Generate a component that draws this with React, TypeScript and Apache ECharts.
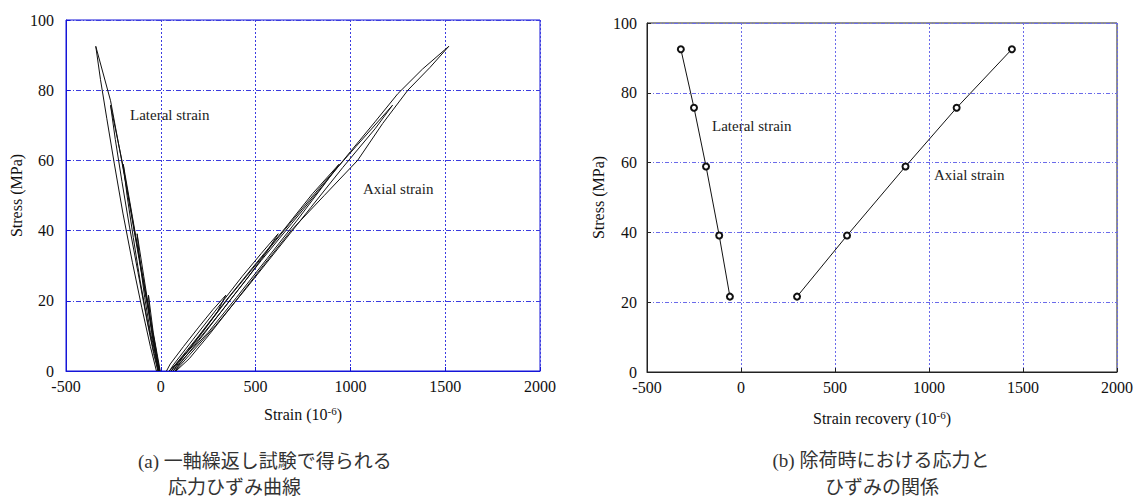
import React, { useEffect, useRef } from "react";
import * as echarts from "echarts";

// ---- (a) cyclic loading curves: [strain (1e-6), stress (MPa)] ----
const axialLoop1 = [[30,0],[50,2],[120,7],[200,12.5],[275,17.5],[343,21.6],[300,17],[220,11],[140,5.5],[80,2],[45,0]];
const axialLoop2 = [[45,0],[70,2],[170,9],[300,18],[430,27],[530,33.5],[619,39.1],[560,34],[450,26],[320,17],[200,9],[100,3],[55,0]];
const axialLoop3 = [[55,0],[80,2],[200,10],[350,20.5],[500,30.5],[660,41],[800,50.5],[940,58.9],[860,53],[720,43],[560,32],[400,21],[250,11],[120,3.5],[65,0]];
const axialLoop4 = [[65,0],[90,2],[210,10.5],[360,21],[520,31.5],[680,42],[850,53],[1030,64],[1222,75.7],[1130,69],[960,58],[790,46.5],[620,35],[450,23.5],[290,13],[150,4.5],[75,0]];
const axialLoop5 = [[75,0],[100,2],[220,10],[370,20.5],[530,31.5],[690,42],[850,52.5],[1000,62.5],[1130,71],[1250,79],[1380,86],[1519,92.5],[1420,86.5],[1303,80],[1170,70.5],[1038,60],[862,50],[687,40],[540,30],[396,20],[250,10],[150,3.5],[80,0]];

const lateralLoop1 = [[-3,0],[-20,5],[-40,11],[-65,21.6],[-58,16],[-45,10],[-28,5],[-6,0]];
const lateralLoop2 = [[-6,0],[-25,6],[-55,15],[-90,27],[-125,39.1],[-110,31],[-85,21],[-55,11],[-25,4],[-9,0]];
const lateralLoop3 = [[-9,0],[-30,7],[-65,18],[-105,30],[-150,44],[-198,58.9],[-178,50],[-145,38],[-110,26],[-70,14],[-35,5],[-12,0]];
const lateralLoop4 = [[-12,0],[-35,8],[-70,19],[-110,31],[-155,45],[-205,60],[-265,75.7],[-240,66],[-205,54],[-165,41],[-120,28],[-75,15],[-38,5],[-15,0]];
const lateralLoop5 = [[-15,0],[-38,8],[-75,20],[-115,32],[-160,46],[-210,61],[-265,77],[-343,92.5],[-318,83],[-285,72],[-245,59],[-200,45],[-150,31],[-100,18],[-55,7],[-23,0]];

// ---- (b) strain recovery at unloading ----
const unloadStress = [92.5, 75.7, 58.9, 39.1, 21.6];
const lateralRecovery = [-320, -250, -186, -116, -59];
const axialRecovery = [1441, 1147, 875, 564, 298];

// ---- axes ----
const xMin = -500, xMax = 2000, xStep = 500;
const yMin = 0, yMax = 100, yStep = 20;

const SERIF = "Liberation Serif, serif";
const CJK = "Liberation Serif, Noto Sans CJK JP, sans-serif";

export default function App() {
  const ref = useRef<HTMLDivElement>(null);

  useEffect(() => {
    const chart = echarts.init(ref.current!, null, { renderer: "svg" });

    const labelStyle = { color: "#111", fontFamily: SERIF, fontSize: 16, lineHeight: 12, formatter: (v: number) => String(v) };
    const nameStyle = {
      color: "#111",
      fontFamily: SERIF,
      fontSize: 16,
      rich: { sup: { fontSize: 11, fontFamily: SERIF, color: "#111", verticalAlign: "top", padding: [0, 0, 7, 0] } },
    };

    const leftAxisColor = "#1515d8";
    const rightAxisColor = "#222";

    const mkX = (gi: number, axisColor: string, gridColor: string, gridType: any, name: string, gap: number) => ({
      type: "value",
      gridIndex: gi,
      min: xMin,
      max: xMax,
      interval: xStep,
      name,
      nameLocation: "middle",
      nameGap: gap,
      nameTextStyle: nameStyle,
      axisLine: { show: true, onZero: false, lineStyle: { color: axisColor, width: 1 } },
      axisTick: { show: true, inside: true, length: 4, lineStyle: { color: axisColor } },
      axisLabel: { ...labelStyle, margin: 9 },
      splitLine: { show: true, lineStyle: { color: gridColor, type: gridType, width: 1 } },
    });
    const mkY = (gi: number, axisColor: string, gridColor: string, gridType: any, gap: number, margin: number) => ({
      type: "value",
      gridIndex: gi,
      min: yMin,
      max: yMax,
      interval: yStep,
      name: "Stress (MPa)",
      nameLocation: "middle",
      nameRotate: 90,
      nameGap: gap,
      nameTextStyle: nameStyle,
      axisLine: { show: true, onZero: false, lineStyle: { color: axisColor, width: 1 } },
      axisTick: { show: true, inside: true, length: 4, lineStyle: { color: axisColor } },
      axisLabel: { ...labelStyle, margin },
      splitLine: { show: true, lineStyle: { color: gridColor, type: gridType, width: 1 } },
    });

    const loopSeries = (data: number[][]) => ({
      type: "line",
      xAxisIndex: 0,
      yAxisIndex: 0,
      data,
      showSymbol: false,
      symbol: "none",
      lineStyle: { color: "#111", width: 1 },
      silent: true,
    });

    const lateralPts = lateralRecovery.map((x, i) => [x, unloadStress[i]]);
    const axialPts = axialRecovery.map((x, i) => [x, unloadStress[i]]);

    const recSeries = (data: number[][]) => ({
      type: "line",
      xAxisIndex: 1,
      yAxisIndex: 1,
      data,
      symbol: "emptyCircle",
      symbolSize: 6,
      showSymbol: true,
      itemStyle: { color: "#111", borderColor: "#111", borderWidth: 1 },
      lineStyle: { color: "#111", width: 1 },
      silent: true,
    });

    const txt = (text: string, x: number, y: number, size = 15, font = SERIF, align = "left", fill = "#222") => ({
      type: "text",
      x,
      y,
      style: { text, fill, fontFamily: font, fontSize: size, textAlign: align, textVerticalAlign: "middle" },
    });

    chart.setOption({
      animation: false,
      backgroundColor: "#fff",
      grid: [
        { left: 66, top: 20, width: 474, height: 351, show: true, borderColor: leftAxisColor, borderWidth: 1, backgroundColor: "transparent" },
        { left: 647, top: 23, width: 470, height: 349, show: true, borderColor: rightAxisColor, borderWidth: 1, backgroundColor: "transparent" },
      ],
      xAxis: [
        mkX(0, leftAxisColor, "#3b3be0", [2, 2], "Strain (10{sup|-6})", 34),
        mkX(1, rightAxisColor, "#6b6bea", [2, 2], "Strain recovery (10{sup|-6})", 37),
      ],
      yAxis: [
        mkY(0, leftAxisColor, "#3b3be0", [5, 2, 1, 2], 42, 12),
        mkY(1, rightAxisColor, "#6b6bea", [4, 2, 1, 2], 41, 10),
      ],
      series: [
        loopSeries(axialLoop1),
        loopSeries(axialLoop2),
        loopSeries(axialLoop3),
        loopSeries(axialLoop4),
        loopSeries(axialLoop5),
        loopSeries(lateralLoop1),
        loopSeries(lateralLoop2),
        loopSeries(lateralLoop3),
        loopSeries(lateralLoop4),
        loopSeries(lateralLoop5),
        recSeries(lateralPts),
        recSeries(axialPts),
      ],
      graphic: [
        txt("Lateral strain", 130, 115),
        txt("Axial strain", 363, 189),
        txt("Lateral strain", 712, 126),
        txt("Axial strain", 934, 175),
        txt("(a) 一軸繰返し試験で得られる", 138, 461, 19, CJK, "left", "#333"),
        txt("応力ひずみ曲線", 168, 487, 19, CJK, "left", "#333"),
        txt("(b) 除荷時における応力と", 881, 460, 19, CJK, "center", "#333"),
        txt("ひずみの関係", 882, 487, 19, CJK, "center", "#333"),
      ],
    });

    return () => chart.dispose();
  }, []);

  return (
    <div
      ref={ref}
      style={{ position: "fixed", left: 0, top: 0, width: 1138, height: 500, background: "#fff" }}
    />
  );
}
